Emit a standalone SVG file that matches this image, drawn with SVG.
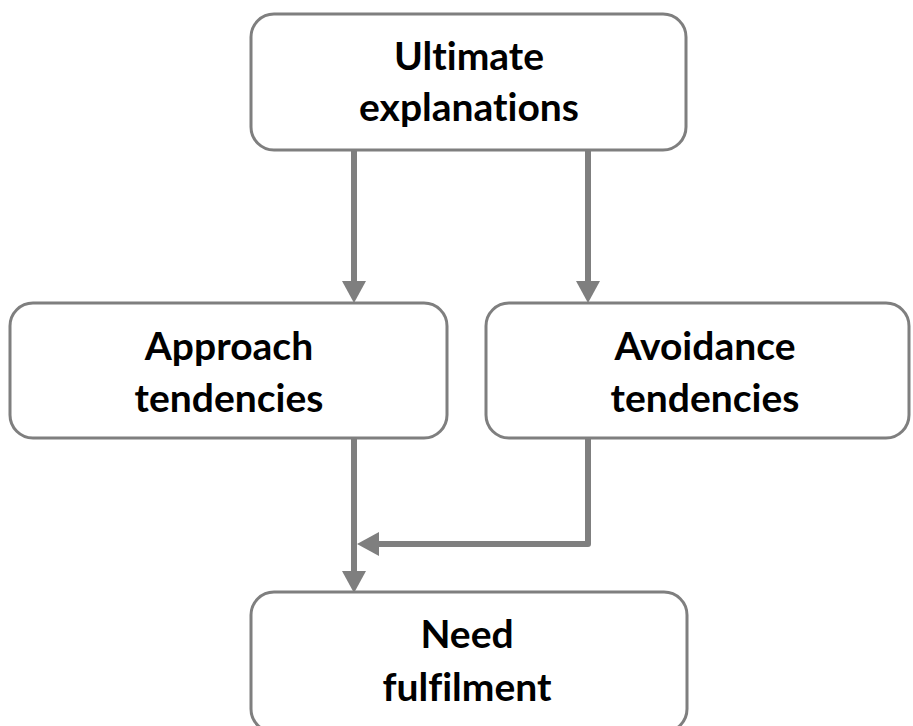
<svg xmlns="http://www.w3.org/2000/svg" width="913" height="726" viewBox="0 0 913 726">
<defs>
<style>
.box{fill:#ffffff;stroke:#7f7f7f;stroke-width:3}
.lbl{font-family:Lato,"Open Sans","Liberation Sans",sans-serif;font-weight:bold;font-size:39px;fill:#000000;text-anchor:middle;font-variant-ligatures:none;font-feature-settings:"liga" 0,"clig" 0}
.conn{fill:none;stroke:#7f7f7f;stroke-width:6;stroke-linejoin:round}
</style>
<marker id="arr" markerUnits="userSpaceOnUse" markerWidth="24" markerHeight="26" refX="0" refY="12" orient="auto" overflow="visible">
<path d="M0,0 L22,12 L0,24 Z" fill="#7f7f7f"/>
</marker>
</defs>
<rect width="913" height="726" fill="#ffffff"/>
<g id="connectors">
<path class="conn" d="M354,150 V281" marker-end="url(#arr)"/>
<path class="conn" d="M588,150 V281" marker-end="url(#arr)"/>
<path class="conn" d="M354,438 V571" marker-end="url(#arr)"/>
<path class="conn" d="M588,438 V544 H379" marker-end="url(#arr)"/>
</g>
<g id="ultimate">
<rect class="box" x="251" y="14" width="435" height="136" rx="23"/>
<text class="lbl" x="469" y="70">Ultimate</text>
<text class="lbl" x="469" y="121">explanations</text>
</g>
<g id="approach">
<rect class="box" x="10" y="303" width="437" height="135" rx="23"/>
<text class="lbl" x="229" y="360">Approach</text>
<text class="lbl" x="229" y="412">tendencies</text>
</g>
<g id="avoidance">
<rect class="box" x="486" y="303" width="423" height="135" rx="23"/>
<text class="lbl" x="705" y="360">Avoidance</text>
<text class="lbl" x="705" y="412">tendencies</text>
</g>
<g id="need">
<rect class="box" x="251" y="592" width="436" height="140" rx="23"/>
<text class="lbl" x="467" y="648">Need</text>
<text class="lbl" x="467" y="701">fulfilment</text>
</g>
</svg>
